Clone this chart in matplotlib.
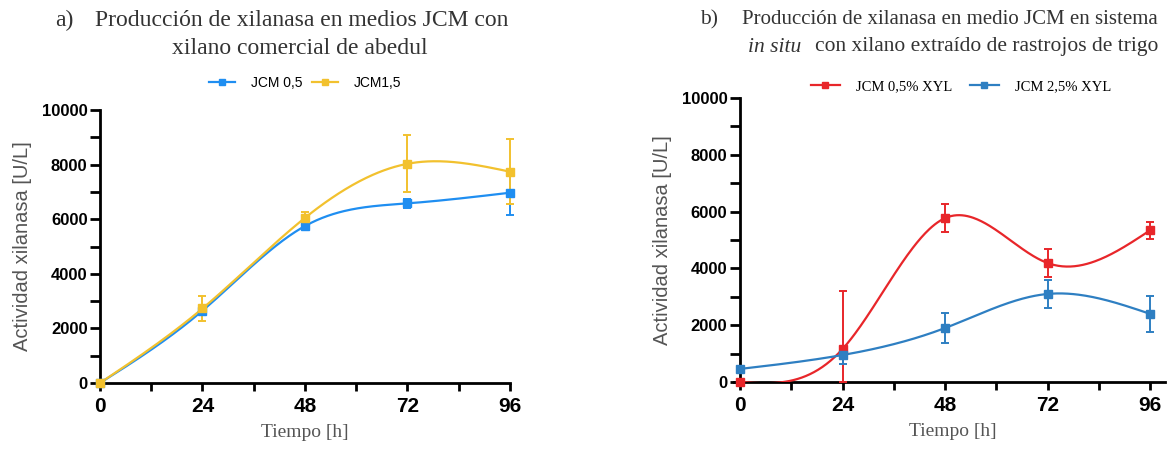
import numpy as np
import matplotlib.pyplot as plt

# tiempos de muestreo [h]
horas = [0, 24, 48, 72, 96]

# a) xilano comercial de abedul
jcm05 = [0, 2650, 5750, 6580, 6970]
jcm05_err = [0, 120, 90, 170, 820]
jcm15 = [0, 2730, 6050, 8030, 7740]
jcm15_err = [0, 460, 220, 1040, 1180]

# b) sistema in situ, xilano de rastrojos de trigo
xyl05 = [0, 1160, 5770, 4190, 5340]
xyl05_err = [0, 2050, 490, 500, 310]
xyl25 = [460, 950, 1900, 3100, 2400]
xyl25_err = [0, 300, 540, 480, 640]

W, H = 1169, 453


def spline(x, y, n=300):
    # spline cubico natural para la curva suavizada
    x = np.asarray(x, float)
    y = np.asarray(y, float)
    k = len(x)
    h = np.diff(x)
    A = np.zeros((k, k))
    b = np.zeros(k)
    A[0, 0] = A[-1, -1] = 1
    for i in range(1, k - 1):
        A[i, i - 1] = h[i - 1]
        A[i, i] = 2 * (h[i - 1] + h[i])
        A[i, i + 1] = h[i]
        b[i] = 6 * ((y[i + 1] - y[i]) / h[i] - (y[i] - y[i - 1]) / h[i - 1])
    m = np.linalg.solve(A, b)
    xs = np.linspace(x[0], x[-1], n)
    idx = np.clip(np.searchsorted(x, xs) - 1, 0, k - 2)
    t0 = x[idx]
    t1 = x[idx + 1]
    hh = t1 - t0
    ys = (m[idx] * (t1 - xs) ** 3 / (6 * hh) + m[idx + 1] * (xs - t0) ** 3 / (6 * hh)
          + (y[idx] / hh - m[idx] * hh / 6) * (t1 - xs)
          + (y[idx + 1] / hh - m[idx + 1] * hh / 6) * (xs - t0))
    return xs, ys


def px(x0, y0, x1, y1):
    return [x0 / W, 1 - y1 / H, (x1 - x0) / W, (y1 - y0) / H]


def estilo(ax, xmax):
    ax.set_xlim(0, xmax)
    ax.set_ylim(0, 10000)
    for s in ['top', 'right']:
        ax.spines[s].set_visible(False)
    for s in ['left', 'bottom']:
        ax.spines[s].set_linewidth(2)
    ax.spines['left'].set_bounds(0, 10000)
    ax.set_xticks(horas)
    ax.set_xticks([12, 36, 60, 84], minor=True)
    ax.set_yticks(range(0, 10001, 2000))
    ax.set_yticks(range(1000, 10000, 2000), minor=True)
    ax.tick_params(axis='x', which='major', length=6, width=2, labelsize=15, pad=4)
    ax.tick_params(axis='x', which='minor', length=6, width=2)
    ax.tick_params(axis='y', which='major', length=7, width=2, labelsize=12, pad=2)
    ax.tick_params(axis='y', which='minor', length=7, width=2)
    for lab in ax.get_xticklabels() + ax.get_yticklabels():
        lab.set_fontweight('bold')
        lab.set_family('Liberation Sans')
    ax.set_xlabel('Tiempo [h]', family='Liberation Serif', fontsize=14, color='#555555', labelpad=6)
    ax.set_ylabel('Actividad xilanasa [U/L]', family='Liberation Sans', fontsize=14.5,
                  color='#555555', labelpad=7)


def serie(ax, y, err, color, label):
    xs, ys = spline(horas, y)
    ax.plot(xs, ys, color=color, lw=1.6, zorder=3)
    # la barra inferior no baja de cero
    abajo = np.minimum(err, y)
    ax.errorbar(horas, y, yerr=[abajo, err], fmt='none', ecolor=color, elinewidth=1.4,
                capsize=3, capthick=1.4, zorder=3, clip_on=False)
    ax.plot(horas, y, 's', color=color, ms=5.5, zorder=4, clip_on=False)
    ax.plot([], [], '-s', color=color, ms=4.5, lw=1.6, label=label)


fig = plt.figure(figsize=(W / 100, H / 100), dpi=100)

ax1 = fig.add_axes(px(100, 110, 510, 383))
estilo(ax1, 96)
serie(ax1, jcm05, jcm05_err, '#1f8ef1', 'JCM 0,5')
serie(ax1, jcm15, jcm15_err, '#f2c12e', 'JCM1,5')
ax1.legend(loc='center', bbox_to_anchor=(0.5, 1.1), ncol=2, frameon=False,
           prop={'family': 'Liberation Sans', 'size': 10}, handlelength=1.9,
           handletextpad=1.1, columnspacing=0.7)

ax2 = fig.add_axes(px(740, 98, 1165, 382))
estilo(ax2, 99.5)
ax2.spines['bottom'].set_bounds(-1.4, 99.5)
serie(ax2, xyl05, xyl05_err, '#e8262a', 'JCM 0,5% XYL')
serie(ax2, xyl25, xyl25_err, '#2e7fc2', 'JCM 2,5% XYL')
ax2.legend(loc='center', bbox_to_anchor=(0.52, 1.04), ncol=2, frameon=False,
           prop={'family': 'Liberation Serif', 'size': 10.5}, handlelength=2.0,
           handletextpad=1.1, columnspacing=1.2)

# titulos
tkw = dict(family='Liberation Serif', color='#333333', va='center')
fig.text(55 / W, 1 - 20 / H, 'a)', ha='left', fontsize=17, **tkw)
fig.text(302 / W, 1 - 20 / H, 'Producción de xilanasa en medios JCM con', ha='center', fontsize=17, **tkw)
fig.text(300 / W, 1 - 48 / H, 'xilano comercial de abedul', ha='center', fontsize=17, **tkw)

fig.text(700 / W, 1 - 20 / H, 'b)', ha='left', fontsize=15.5, **tkw)
fig.text(1158 / W, 1 - 20 / H, 'Producción de xilanasa en medio JCM en sistema', ha='right',
         fontsize=15, **tkw)
fig.text(748 / W, 1 - 47 / H, 'in situ', ha='left', style='italic', fontsize=15.5, **tkw)
fig.text(1158 / W, 1 - 47 / H, 'con xilano extraído de rastrojos de trigo', ha='right',
         fontsize=15.5, **tkw)

fig.savefig('out.png', dpi=100)
